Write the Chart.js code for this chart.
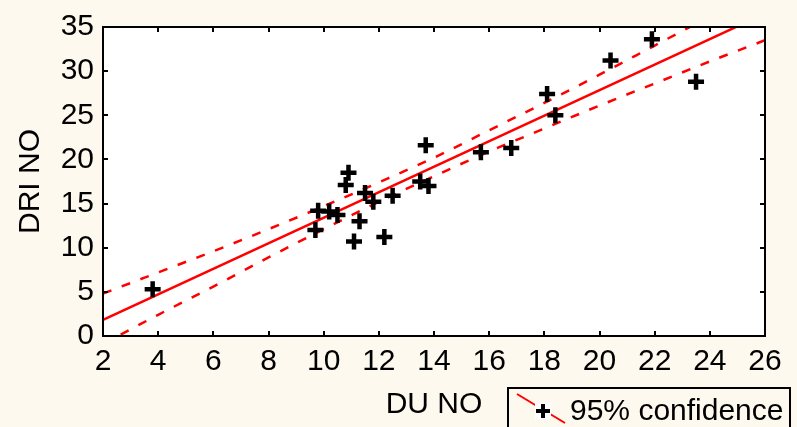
<!DOCTYPE html>
<html>
<head>
<meta charset="utf-8">
<script src="https://cdn.jsdelivr.net/npm/chart.js@4.4.0/dist/chart.umd.min.js"></script>
<style>
  html, body { margin: 0; padding: 0; background: #fdf9ef; }
  #wrap { width: 797px; height: 427px; }
</style>
</head>
<body>
<div id="wrap"><canvas id="chart" width="797" height="427"></canvas></div>
<script>
const duNo  = [3.8, 9.7, 9.8, 10.2, 10.5, 10.8, 10.9, 11.1, 11.3, 11.5, 11.8, 12.2, 12.5, 13.5, 13.7, 13.8, 15.7, 16.8, 18.1, 18.4, 20.4, 21.9, 23.5];
const driNo = [5.3, 12.0, 14.2, 14.1, 13.7, 17.1, 18.5, 10.7, 13.0, 16.2, 15.2, 11.2, 15.9, 17.5, 21.6, 17.0, 20.8, 21.3, 27.4, 25.0, 31.2, 33.6, 28.8];

// regression line ends
const fitX = [2, 26];
const fitY = [1.84, 36.52];

// 95% confidence band, read at each even x
const bandX     = [2, 4, 6, 8, 10, 12, 14, 16, 18, 20, 22, 24, 26];
const bandUpper = [4.8, 7.2, 9.6, 12.1, 14.7, 17.4, 20.2, 23.3, 26.4, 29.6, 32.9, 36.2, 39.5];
const bandLower = [-0.9, 2.4, 5.6, 8.9, 12.1, 15.2, 18.1, 20.9, 23.5, 26.1, 28.6, 31.1, 33.5];

// axis ticks
const xTicks = [2, 4, 6, 8, 10, 12, 14, 16, 18, 20, 22, 24, 26];
const yTicks = [0, 5, 10, 15, 20, 25, 30, 35];

const FONT = "'Liberation Sans', Arial, sans-serif";
const BG = '#fdf9ef';

const toPts = (xs, ys) => xs.map((x, i) => ({ x: x, y: ys[i] }));

// frame, inward tick marks and the legend box
const framePlugin = {
    id: 'frame',
    beforeDraw(chart) {
        const { ctx, chartArea: a } = chart;
        ctx.save();
        ctx.fillStyle = BG;
        ctx.fillRect(0, 0, chart.width, chart.height);
        ctx.fillStyle = '#ffffff';
        ctx.fillRect(a.left, a.top, a.right - a.left, a.bottom - a.top);
        ctx.restore();
    },
    afterDraw(chart) {
        const { ctx, chartArea: a, scales } = chart;
        ctx.save();
        ctx.strokeStyle = '#000';
        ctx.lineWidth = 2;
        ctx.strokeRect(a.left, a.top, a.right - a.left, a.bottom - a.top);

        const len = 5;
        ctx.beginPath();
        xTicks.forEach(v => {
            const px = Math.round(scales.x.getPixelForValue(v));
            ctx.moveTo(px, a.top); ctx.lineTo(px, a.top + len);
            ctx.moveTo(px, a.bottom); ctx.lineTo(px, a.bottom - len);
        });
        yTicks.forEach(v => {
            const py = Math.round(scales.y.getPixelForValue(v));
            ctx.moveTo(a.left, py); ctx.lineTo(a.left + len, py);
            ctx.moveTo(a.right, py); ctx.lineTo(a.right - len, py);
        });
        ctx.stroke();

        // legend
        ctx.lineWidth = 2;
        ctx.strokeStyle = '#000';
        ctx.strokeRect(508, 388, 282, 50);
        ctx.strokeStyle = '#ff0000';
        ctx.beginPath();
        ctx.moveTo(517, 394);
        ctx.lineTo(565, 423);
        ctx.stroke();
        ctx.fillStyle = '#ffffff';
        ctx.fillRect(535, 403, 16, 16);
        ctx.strokeStyle = '#000';
        ctx.lineWidth = 4;
        ctx.beginPath();
        ctx.moveTo(536, 411); ctx.lineTo(550, 411);
        ctx.moveTo(543, 404); ctx.lineTo(543, 418);
        ctx.stroke();
        ctx.fillStyle = '#000';
        ctx.font = '30px ' + FONT;
        ctx.textBaseline = 'alphabetic';
        ctx.fillText('95% confidence', 570, 420);
        ctx.restore();
    }
};

const ctx = document.getElementById('chart').getContext('2d');

new Chart(ctx, {
    type: 'scatter',
    data: {
        datasets: [
            {
                label: 'DRI NO',
                data: toPts(duNo, driNo),
                pointStyle: 'cross',
                pointRadius: 8,
                pointBorderWidth: 4.5,
                borderColor: '#000',
                backgroundColor: '#000',
                showLine: false
            },
            {
                label: 'fit',
                data: toPts(fitX, fitY),
                showLine: true,
                borderColor: '#ff0000',
                borderWidth: 2.5,
                pointRadius: 0
            },
            {
                label: 'upper',
                data: toPts(bandX, bandUpper),
                showLine: true,
                borderColor: '#ff0000',
                borderWidth: 2.5,
                borderDash: [9, 11],
                cubicInterpolationMode: 'monotone',
                pointRadius: 0
            },
            {
                label: 'lower',
                data: toPts(bandX, bandLower),
                showLine: true,
                borderColor: '#ff0000',
                borderWidth: 2.5,
                borderDash: [9, 11],
                cubicInterpolationMode: 'monotone',
                pointRadius: 0
            }
        ]
    },
    options: {
        responsive: false,
        animation: false,
        events: [],
        layout: { padding: { top: 19, right: 32, left: 0, bottom: 0 } },
        plugins: {
            legend: { display: false },
            tooltip: { enabled: false }
        },
        scales: {
            x: {
                type: 'linear',
                min: 2,
                max: 26,
                afterBuildTicks: s => { s.ticks = xTicks.map(v => ({ value: v })); },
                afterFit: s => { s.height = 91; },
                grid: { display: false, drawTicks: false },
                border: { display: false },
                ticks: { color: '#000', font: { family: FONT, size: 30 }, padding: 8, maxRotation: 0 },
                title: { display: true, text: 'DU NO', color: '#000', font: { family: FONT, size: 30 }, padding: { top: 0, bottom: 4 } }
            },
            y: {
                type: 'linear',
                min: 0,
                max: 35,
                afterBuildTicks: s => { s.ticks = yTicks.map(v => ({ value: v })); },
                afterFit: s => { s.width = 103; },
                grid: { display: false, drawTicks: false },
                border: { display: false },
                ticks: { color: '#000', font: { family: FONT, size: 30 }, padding: 9 },
                title: { display: true, text: 'DRI NO', color: '#000', font: { family: FONT, size: 30 }, padding: { top: 13, bottom: 0 } }
            }
        }
    },
    plugins: [framePlugin]
});
</script>
</body>
</html>
